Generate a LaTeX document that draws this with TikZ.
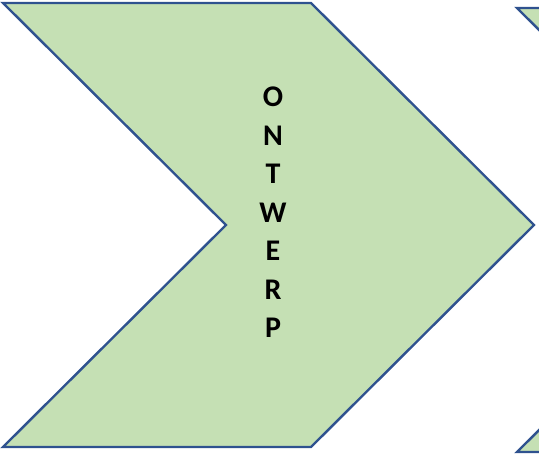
\documentclass[tikz,border=0pt]{standalone}
\usepackage{fontspec}
\setmainfont{Carlito}
\usepackage{tikz}

\definecolor{chevfill}{HTML}{C5E0B4}
\definecolor{chevline}{HTML}{2F528F}

\begin{document}
\begin{tikzpicture}[x=1pt,y=-1pt]

	\tikzstyle chevron=[fill=chevfill,draw=chevline,line width=2.4pt,line join=miter];
	\tikzstyle letter=[font=\fontsize{30}{32}\selectfont\bfseries,inner sep=0pt];

	\clip (0,0) rectangle (539,455);

	% first chevron
	\draw[chevron] (3,3) -- (311,3) -- (534,225) -- (311,447) -- (3,447) -- (226,225) -- cycle;

	% next chevron, cut off at the right
	\draw[chevron] (517,8) -- (825,8) -- (1048,230) -- (825,452) -- (517,452) -- (740,230) -- cycle;

	\foreach \y/\label in {0/O,1/N,2/T,3/W,4/E,5/R,6/P}
		\node[letter] (l\y) at (273,97+38.5*\y) {\label};

\end{tikzpicture}
\end{document}
